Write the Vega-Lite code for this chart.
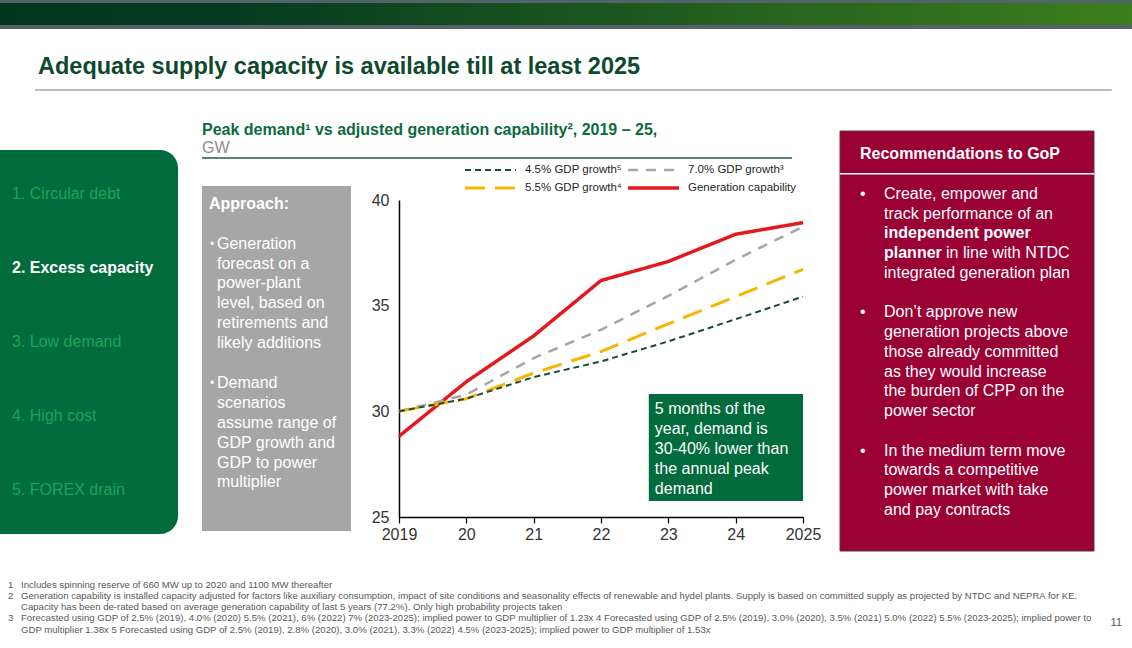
{
  "$schema": "https://vega.github.io/schema/vega-lite/v6.json",
  "background": "white",
  "padding": 0,
  "spacing": 0,
  "bounds": "full",
  "config": {"view": {"stroke": null}, "font": "Liberation Sans", "concat": {"spacing": 0}},
  "datasets": {
    "series": [
      {"series": "Generation capability", "year": 2019, "value": 28.82},
      {"series": "Generation capability", "year": 2020, "value": 31.4},
      {"series": "Generation capability", "year": 2021, "value": 33.57},
      {"series": "Generation capability", "year": 2022, "value": 36.19},
      {"series": "Generation capability", "year": 2023, "value": 37.09},
      {"series": "Generation capability", "year": 2024, "value": 38.38},
      {"series": "Generation capability", "year": 2025, "value": 38.93},
      {"series": "7.0% GDP growth³", "year": 2019, "value": 30.0},
      {"series": "7.0% GDP growth³", "year": 2020, "value": 30.79},
      {"series": "7.0% GDP growth³", "year": 2021, "value": 32.52},
      {"series": "7.0% GDP growth³", "year": 2022, "value": 33.86},
      {"series": "7.0% GDP growth³", "year": 2023, "value": 35.46},
      {"series": "7.0% GDP growth³", "year": 2024, "value": 37.17},
      {"series": "7.0% GDP growth³", "year": 2025, "value": 38.74},
      {"series": "5.5% GDP growth⁴", "year": 2019, "value": 30.0},
      {"series": "5.5% GDP growth⁴", "year": 2020, "value": 30.6},
      {"series": "5.5% GDP growth⁴", "year": 2021, "value": 31.81},
      {"series": "5.5% GDP growth⁴", "year": 2022, "value": 32.83},
      {"series": "5.5% GDP growth⁴", "year": 2023, "value": 34.14},
      {"series": "5.5% GDP growth⁴", "year": 2024, "value": 35.43},
      {"series": "5.5% GDP growth⁴", "year": 2025, "value": 36.72},
      {"series": "4.5% GDP growth⁵", "year": 2019, "value": 30.0},
      {"series": "4.5% GDP growth⁵", "year": 2020, "value": 30.6},
      {"series": "4.5% GDP growth⁵", "year": 2021, "value": 31.62},
      {"series": "4.5% GDP growth⁵", "year": 2022, "value": 32.36},
      {"series": "4.5% GDP growth⁵", "year": 2023, "value": 33.31},
      {"series": "4.5% GDP growth⁵", "year": 2024, "value": 34.36},
      {"series": "4.5% GDP growth⁵", "year": 2025, "value": 35.43}
    ],
    "sections": [
      {"n": 1, "label": "1. Circular debt", "current": false},
      {"n": 2, "label": "2. Excess capacity", "current": true},
      {"n": 3, "label": "3. Low demand", "current": false},
      {"n": 4, "label": "4. High cost", "current": false},
      {"n": 5, "label": "5. FOREX drain", "current": false}
    ],
    "approach": [
      {"row": 0, "text": "Generation"},
      {"row": 1, "text": "forecast on a"},
      {"row": 2, "text": "power-plant"},
      {"row": 3, "text": "level, based on"},
      {"row": 4, "text": "retirements and"},
      {"row": 5, "text": "likely additions"},
      {"row": 7, "text": "Demand"},
      {"row": 8, "text": "scenarios"},
      {"row": 9, "text": "assume range of"},
      {"row": 10, "text": "GDP growth and"},
      {"row": 11, "text": "GDP to power"},
      {"row": 12, "text": "multiplier"}
    ],
    "recs": [
      {"row": 0, "text": "Create, empower and"},
      {"row": 1, "text": "track performance of an"},
      {"row": 4, "text": "integrated generation plan"},
      {"row": 6, "text": "Don’t approve new"},
      {"row": 7, "text": "generation projects above"},
      {"row": 8, "text": "those already committed"},
      {"row": 9, "text": "as they would increase"},
      {"row": 10, "text": "the burden of CPP on the"},
      {"row": 11, "text": "power sector"},
      {"row": 13, "text": "In the medium term move"},
      {"row": 14, "text": "towards a competitive"},
      {"row": 15, "text": "power market with take"},
      {"row": 16, "text": "and pay contracts"}
    ],
    "notes": [
      {"row": 0, "num": "1", "text": "Includes spinning reserve of 660 MW up to 2020 and 1100 MW thereafter"},
      {"row": 1, "num": "2", "text": "Generation capability is installed capacity adjusted for factors like auxiliary consumption, impact of site conditions and seasonality effects of renewable and hydel plants. Supply is based on committed supply as projected by NTDC and NEPRA for KE."},
      {"row": 2, "num": "", "text": "Capacity has been de-rated based on average generation capability of last 5 years (77.2%). Only high probability projects taken"},
      {"row": 3, "num": "3", "text": "Forecasted using GDP of 2.5% (2019), 4.0% (2020) 5.5% (2021), 6% (2022) 7% (2023-2025); implied power to GDP multiplier of 1.23x 4 Forecasted using GDP of 2.5% (2019), 3.0% (2020), 3.5% (2021)  5.0% (2022) 5.5% (2023-2025); implied power to"},
      {"row": 4, "num": "", "text": "GDP multiplier 1.38x  5 Forecasted using GDP of 2.5% (2019), 2.8% (2020), 3.0% (2021), 3.3% (2022)  4.5% (2023-2025); implied power to GDP multiplier of 1.53x"}
    ]
  },
  "vconcat": [
    {"width": 1132, "height": 3, "data": {"values": [{"part": "top rule"}]}, "mark": {"type": "rect", "fill": "#56626a"}, "encoding": {}},
    {"width": 1132, "height": 22, "data": {"values": [{"part": "banner"}]}, "mark": {"type": "rect", "fill": {"gradient": "linear", "x1": 0, "y1": 0, "x2": 1, "y2": 0, "stops": [{"offset": 0, "color": "#04361f"}, {"offset": 0.2, "color": "#053a21"}, {"offset": 1, "color": "#3d7e1d"}]}}, "encoding": {}},
    {"width": 1132, "height": 4, "data": {"values": [{"part": "bottom rule"}]}, "mark": {"type": "rect", "fill": "#56626a"}, "encoding": {}},
    {"width": 1132, "height": 61,
     "title": {"text": "Adequate supply capacity is available till at least 2025", "orient": "top", "anchor": "start", "frame": "group", "offset": -68.5, "dx": 38, "baseline": "alphabetic", "fontSize": 23.5, "fontWeight": "bold", "color": "#0d4a2b", "font": "Liberation Sans"},
     "data": {"values": [{"part": "title rule"}]}, "mark": {"type": "rule", "color": "#a6a6a6", "strokeWidth": 1.5},
     "encoding": {"x": {"datum": 0.031, "type": "quantitative", "scale": {"domain": [0, 1], "nice": false}, "axis": null}, "x2": {"datum": 0.982}, "y": {"datum": 0, "type": "quantitative", "scale": {"domain": [0, 1], "nice": false}, "axis": null}}},
    {"hconcat": [
      {"vconcat": [
        {"width": 178, "height": 59, "data": {"values": []}, "mark": "point", "encoding": {}},
        {"width": 178, "height": 384, "layer": [
          {"data": {"values": [{"part": "nav panel"}]}, "mark": {"type": "rect", "fill": "#006b3c", "cornerRadiusTopRight": 18, "cornerRadiusBottomRight": 18}, "encoding": {}},
          {"data": {"name": "sections"}, "transform": [{"filter": "!datum.current"}], "mark": {"type": "text", "align": "left", "baseline": "middle", "dx": 12, "fontSize": 16, "color": "#1fa35a"},
           "encoding": {"x": {"datum": 0, "type": "quantitative", "scale": {"domain": [0, 1], "nice": false}, "axis": null}, "y": {"field": "n", "type": "ordinal", "scale": {"type": "point", "padding": 0.6, "domain": [1, 2, 3, 4, 5]}, "axis": null}, "text": {"field": "label"}}},
          {"data": {"name": "sections"}, "transform": [{"filter": "datum.current"}], "mark": {"type": "text", "align": "left", "baseline": "middle", "dx": 12, "fontSize": 16, "fontWeight": "bold", "color": "#ffffff"},
           "encoding": {"x": {"datum": 0, "type": "quantitative", "scale": {"domain": [0, 1], "nice": false}, "axis": null}, "y": {"field": "n", "type": "ordinal", "scale": {"type": "point", "padding": 0.6, "domain": [1, 2, 3, 4, 5]}, "axis": null}, "text": {"field": "label"}}}
        ]}
      ], "spacing": 0, "bounds": "flush"},
      {"width": 23, "height": 10, "data": {"values": []}, "mark": "point", "encoding": {}},
      {"vconcat": [
        {"width": 590, "height": 67, "data": {"values": [{"part": "chart title rule"}]}, "mark": {"type": "rule", "color": "#1e5b3c", "strokeWidth": 1.5},
         "encoding": {"y": {"datum": 0, "type": "quantitative", "scale": {"domain": [0, 1], "nice": false}, "axis": null}},
         "title": {"text": "Peak demand¹ vs adjusted generation capability², 2019 – 25,", "subtitle": "GW", "orient": "top", "anchor": "start", "frame": "group", "offset": -65, "fontSize": 16, "fontWeight": "bold", "color": "#0c6b3b", "font": "Liberation Sans", "subtitleFont": "Liberation Sans", "subtitleFontSize": 16, "subtitleColor": "#8c8c8c", "subtitlePadding": 2}},
        {"width": 590, "height": 28, "data": {"values": []}, "mark": "point", "encoding": {}},
        {"hconcat": [
          {"width": 149, "height": 345, "layer": [
            {"data": {"values": [{"part": "approach panel"}]}, "mark": {"type": "rect", "fill": "#a6a6a6"}, "encoding": {}},
            {"data": {"values": [{"row": -2, "text": "Approach:"}]}, "mark": {"type": "text", "align": "left", "baseline": "middle", "dx": 7, "fontSize": 16, "fontWeight": "bold", "color": "#ffffff"},
             "encoding": {"x": {"datum": 0, "type": "quantitative", "scale": {"domain": [0, 1], "nice": false}, "axis": null}, "y": {"field": "row", "type": "quantitative", "scale": {"domain": [-2.9, 14.44], "reverse": true, "nice": false, "zero": false}, "axis": null}, "text": {"field": "text"}}},
            {"data": {"values": [{"row": 0, "text": "•"}, {"row": 7, "text": "•"}]}, "mark": {"type": "text", "align": "left", "baseline": "middle", "dx": 8, "fontSize": 12, "color": "#ffffff"},
             "encoding": {"x": {"datum": 0, "type": "quantitative", "scale": {"domain": [0, 1], "nice": false}, "axis": null}, "y": {"field": "row", "type": "quantitative", "scale": {"domain": [-2.9, 14.44], "reverse": true, "nice": false, "zero": false}, "axis": null}, "text": {"field": "text"}}},
            {"data": {"name": "approach"}, "mark": {"type": "text", "align": "left", "baseline": "middle", "dx": 15, "fontSize": 16, "color": "#ffffff"},
             "encoding": {"x": {"datum": 0, "type": "quantitative", "scale": {"domain": [0, 1], "nice": false}, "axis": null}, "y": {"field": "row", "type": "quantitative", "scale": {"domain": [-2.9, 14.44], "reverse": true, "nice": false, "zero": false}, "axis": null}, "text": {"field": "text"}}}
          ]},
          {"width": 48, "height": 10, "data": {"values": []}, "mark": "point", "encoding": {}},
          {"width": 404, "height": 317, "layer": [
            {"data": {"values": [{"note": "5 months of the\nyear, demand is\n30-40% lower than\nthe annual peak\ndemand"}]}, "layer": [
              {"mark": {"type": "rect", "fill": "#006b3c"},
               "encoding": {
                 "x": {"datum": 2022.71, "type": "quantitative", "scale": {"domain": [2019, 2025], "nice": false, "zero": false},
                       "axis": {"title": null, "values": [2019, 2020, 2021, 2022, 2023, 2024, 2025], "format": "d", "labelExpr": "datum.value == 2019 || datum.value == 2025 ? datum.label : substring(datum.label, 2)", "grid": false, "domainColor": "#000000", "domainWidth": 1.5, "tickColor": "#000000", "tickSize": 6, "tickWidth": 1.2, "labelFontSize": 16, "labelColor": "#333333", "labelPadding": 3, "labelFlush": false, "labelOverlap": false}},
                 "x2": {"datum": 2025},
                 "y": {"datum": 30.82, "type": "quantitative", "scale": {"domain": [25, 40], "nice": false, "zero": false},
                       "axis": {"title": null, "values": [25, 30, 35, 40], "grid": false, "ticks": false, "domainColor": "#000000", "domainWidth": 1.5, "labelFontSize": 16, "labelColor": "#333333", "labelPadding": 10}},
                 "y2": {"datum": 25.76}}},
              {"mark": {"type": "text", "align": "left", "baseline": "middle", "lineBreak": "\n", "lineHeight": 20, "fontSize": 16, "color": "#ffffff"},
               "encoding": {
                 "x": {"datum": 2022.8, "type": "quantitative", "scale": {"domain": [2019, 2025], "nice": false, "zero": false},
                       "axis": {"title": null, "values": [2019, 2020, 2021, 2022, 2023, 2024, 2025], "format": "d", "labelExpr": "datum.value == 2019 || datum.value == 2025 ? datum.label : substring(datum.label, 2)", "grid": false, "domainColor": "#000000", "domainWidth": 1.5, "tickColor": "#000000", "tickSize": 6, "tickWidth": 1.2, "labelFontSize": 16, "labelColor": "#333333", "labelPadding": 3, "labelFlush": false, "labelOverlap": false}},
                 "y": {"datum": 30.11, "type": "quantitative", "scale": {"domain": [25, 40], "nice": false, "zero": false},
                       "axis": {"title": null, "values": [25, 30, 35, 40], "grid": false, "ticks": false, "domainColor": "#000000", "domainWidth": 1.5, "labelFontSize": 16, "labelColor": "#333333", "labelPadding": 10}},
                 "text": {"field": "note"}}}
            ]},
            {"data": {"name": "series"}, "mark": {"type": "line", "strokeCap": "butt", "strokeJoin": "round"},
             "encoding": {
               "x": {"field": "year", "type": "quantitative", "scale": {"domain": [2019, 2025], "nice": false, "zero": false},
                     "axis": {"title": null, "values": [2019, 2020, 2021, 2022, 2023, 2024, 2025], "format": "d", "labelExpr": "datum.value == 2019 || datum.value == 2025 ? datum.label : substring(datum.label, 2)", "grid": false, "domainColor": "#000000", "domainWidth": 1.5, "tickColor": "#000000", "tickSize": 6, "tickWidth": 1.2, "labelFontSize": 16, "labelColor": "#333333", "labelPadding": 3, "labelFlush": false, "labelOverlap": false}},
               "y": {"field": "value", "type": "quantitative", "scale": {"domain": [25, 40], "nice": false, "zero": false},
                     "axis": {"title": null, "values": [25, 30, 35, 40], "grid": false, "ticks": false, "domainColor": "#000000", "domainWidth": 1.5, "labelFontSize": 16, "labelColor": "#333333", "labelPadding": 10}},
               "color": {"field": "series", "type": "nominal",
                         "scale": {"domain": ["4.5% GDP growth⁵", "7.0% GDP growth³", "5.5% GDP growth⁴", "Generation capability"], "range": ["#1d4a33", "#a6a6a6", "#f7b500", "#e3191f"]},
                         "legend": {"orient": "none", "legendX": 463, "legendY": 162, "direction": "horizontal", "columns": 2, "title": null, "symbolType": "stroke", "symbolSize": 2600, "clipHeight": 16, "rowPadding": 2, "columnPadding": 4, "labelOffset": 7, "labelFontSize": 11.5, "labelColor": "#262626", "labelFont": "Liberation Sans", "padding": 0}},
               "strokeDash": {"field": "series", "type": "nominal",
                         "scale": {"domain": ["4.5% GDP growth⁵", "7.0% GDP growth³", "5.5% GDP growth⁴", "Generation capability"], "range": [[6, 4], [10, 8], [20, 10], [1, 0]]},
                         "legend": {"orient": "none", "legendX": 463, "legendY": 162, "direction": "horizontal", "columns": 2, "title": null, "symbolType": "stroke", "symbolSize": 2600, "clipHeight": 16, "rowPadding": 2, "columnPadding": 4, "labelOffset": 7, "labelFontSize": 11.5, "labelColor": "#262626", "labelFont": "Liberation Sans", "padding": 0}},
               "strokeWidth": {"field": "series", "type": "nominal",
                         "scale": {"domain": ["4.5% GDP growth⁵", "7.0% GDP growth³", "5.5% GDP growth⁴", "Generation capability"], "range": [2, 3.5, 3.5, 4.5]},
                         "legend": {"orient": "none", "legendX": 463, "legendY": 162, "direction": "horizontal", "columns": 2, "title": null, "symbolType": "stroke", "symbolSize": 2600, "clipHeight": 16, "rowPadding": 2, "columnPadding": 4, "labelOffset": 7, "labelFontSize": 11.5, "labelColor": "#262626", "labelFont": "Liberation Sans", "padding": 0}}
             }}
          ]}
        ], "spacing": 0, "bounds": "flush", "center": true}
      ], "spacing": 0, "bounds": "flush"},
      {"width": 18, "height": 10, "data": {"values": []}, "mark": "point", "encoding": {}},
      {"vconcat": [
        {"width": 254, "height": 40, "data": {"values": []}, "mark": "point", "encoding": {}},
        {"width": 254, "height": 420, "layer": [
          {"data": {"values": [{"part": "recommendations panel"}]}, "mark": {"type": "rect", "fill": "#9b0034", "stroke": "#5e3a2f", "strokeWidth": 1}, "encoding": {}},
          {"data": {"values": [{"part": "header rule"}]}, "mark": {"type": "rule", "color": "#ffffff", "strokeWidth": 1.5},
           "encoding": {"y": {"datum": -1.03, "type": "quantitative", "scale": {"domain": [-3.19, 18.08], "reverse": true, "nice": false, "zero": false}, "axis": null}}},
          {"data": {"values": [{"row": -2, "text": "Recommendations to GoP"}]}, "mark": {"type": "text", "align": "left", "baseline": "middle", "dx": 20, "fontSize": 16, "fontWeight": "bold", "color": "#ffffff"},
           "encoding": {"x": {"datum": 0, "type": "quantitative", "scale": {"domain": [0, 1], "nice": false}, "axis": null}, "y": {"field": "row", "type": "quantitative", "scale": {"domain": [-3.19, 18.08], "reverse": true, "nice": false, "zero": false}, "axis": null}, "text": {"field": "text"}}},
          {"data": {"values": [{"row": 0, "text": "•"}, {"row": 6, "text": "•"}, {"row": 13, "text": "•"}]}, "mark": {"type": "text", "align": "left", "baseline": "middle", "dx": 20, "fontSize": 16, "color": "#ffffff"},
           "encoding": {"x": {"datum": 0, "type": "quantitative", "scale": {"domain": [0, 1], "nice": false}, "axis": null}, "y": {"field": "row", "type": "quantitative", "scale": {"domain": [-3.19, 18.08], "reverse": true, "nice": false, "zero": false}, "axis": null}, "text": {"field": "text"}}},
          {"data": {"name": "recs"}, "mark": {"type": "text", "align": "left", "baseline": "middle", "dx": 44, "fontSize": 16, "color": "#ffffff"},
           "encoding": {"x": {"datum": 0, "type": "quantitative", "scale": {"domain": [0, 1], "nice": false}, "axis": null}, "y": {"field": "row", "type": "quantitative", "scale": {"domain": [-3.19, 18.08], "reverse": true, "nice": false, "zero": false}, "axis": null}, "text": {"field": "text"}}},
          {"data": {"values": [{"row": 2, "text": "independent power"}, {"row": 3, "text": "planner"}]}, "mark": {"type": "text", "align": "left", "baseline": "middle", "dx": 44, "fontSize": 16, "fontWeight": "bold", "color": "#ffffff"},
           "encoding": {"x": {"datum": 0, "type": "quantitative", "scale": {"domain": [0, 1], "nice": false}, "axis": null}, "y": {"field": "row", "type": "quantitative", "scale": {"domain": [-3.19, 18.08], "reverse": true, "nice": false, "zero": false}, "axis": null}, "text": {"field": "text"}}},
          {"data": {"values": [{"row": 3, "text": "in line with NTDC"}]}, "mark": {"type": "text", "align": "left", "baseline": "middle", "dx": 106, "fontSize": 16, "color": "#ffffff"},
           "encoding": {"x": {"datum": 0, "type": "quantitative", "scale": {"domain": [0, 1], "nice": false}, "axis": null}, "y": {"field": "row", "type": "quantitative", "scale": {"domain": [-3.19, 18.08], "reverse": true, "nice": false, "zero": false}, "axis": null}, "text": {"field": "text"}}}
        ]}
      ], "spacing": 0, "bounds": "flush"}
    ], "spacing": 0, "bounds": "full"},
    {"width": 1132, "height": 97, "layer": [
      {"data": {"name": "notes"}, "transform": [{"filter": "datum.num != ''"}], "mark": {"type": "text", "align": "left", "baseline": "middle", "dx": 8, "fontSize": 9.6, "color": "#595959"},
       "encoding": {"x": {"datum": 0, "type": "quantitative", "scale": {"domain": [0, 1], "nice": false}, "axis": null}, "y": {"field": "row", "type": "quantitative", "scale": {"domain": [-2.93, 5.73], "reverse": true, "nice": false, "zero": false}, "axis": null}, "text": {"field": "num"}}},
      {"data": {"name": "notes"}, "mark": {"type": "text", "align": "left", "baseline": "middle", "dx": 21, "fontSize": 9.6, "color": "#595959"},
       "encoding": {"x": {"datum": 0, "type": "quantitative", "scale": {"domain": [0, 1], "nice": false}, "axis": null}, "y": {"field": "row", "type": "quantitative", "scale": {"domain": [-2.93, 5.73], "reverse": true, "nice": false, "zero": false}, "axis": null}, "text": {"field": "text"}}},
      {"data": {"values": [{"page": "11"}]}, "mark": {"type": "text", "align": "right", "baseline": "middle", "dx": -10, "fontSize": 11, "color": "#595959"},
       "encoding": {"x": {"datum": 1, "type": "quantitative", "scale": {"domain": [0, 1], "nice": false}, "axis": null}, "y": {"datum": 3.4, "type": "quantitative", "scale": {"domain": [-2.93, 5.73], "reverse": true, "nice": false, "zero": false}, "axis": null}, "text": {"field": "page"}}}
    ]}
  ]
}
